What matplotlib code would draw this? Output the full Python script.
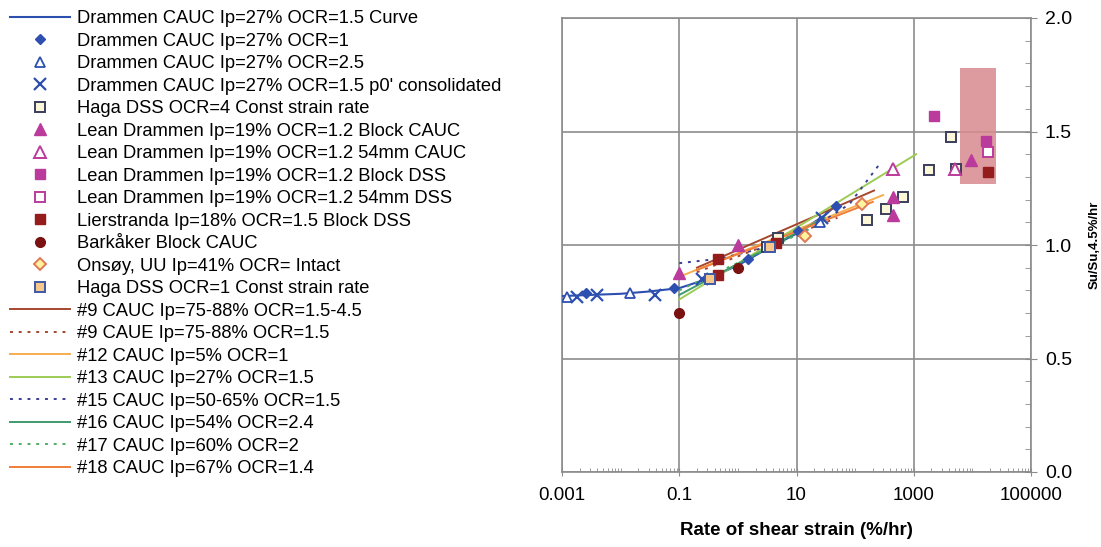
import matplotlib
matplotlib.use("Agg")
import matplotlib.pyplot as plt
from matplotlib.ticker import LogLocator, NullFormatter, FixedLocator, MultipleLocator, FuncFormatter
from matplotlib.patches import Rectangle

plt.rcParams['font.family'] = ['Liberation Sans', 'DejaVu Sans']

# ---- data -------------------------------------------------------------
curve_x = [0.001, 0.003, 0.01, 0.03, 0.1, 0.3, 1, 3, 10, 30, 50]
curve_y = [0.775, 0.78, 0.785, 0.795, 0.81, 0.85, 0.91, 0.98, 1.05, 1.13, 1.18]

ocr1_x = [0.0026, 0.08, 1.5, 10.5, 48]
ocr1_y = [0.79, 0.81, 0.94, 1.06, 1.17]

ocr25_x = [0.0012, 0.0144, 25]
ocr25_y = [0.77, 0.79, 1.10]

p0_x = [0.0018, 0.004, 0.038, 0.24, 27]
p0_y = [0.77, 0.78, 0.78, 0.85, 1.12]

haga4_x = [3.2, 4.8, 162, 340, 660, 1820, 4360, 5300]
haga4_y = [0.99, 1.03, 1.11, 1.16, 1.21, 1.33, 1.475, 1.335]

lean_block_cauc_x = [0.1, 1.0, 450, 450, 9500]
lean_block_cauc_y = [0.875, 1.0, 1.21, 1.13, 1.375]

lean_54_cauc_x = [450, 5000]
lean_54_cauc_y = [1.335, 1.335]

lean_block_dss_x = [2240, 17000]
lean_block_dss_y = [1.57, 1.46]

lean_54_dss_x = [18600]
lean_54_dss_y = [1.41]

lier_x = [0.45, 0.45, 4.5, 18600]
lier_y = [0.94, 0.87, 1.01, 1.32]

bark_x = [0.1, 1.0]
bark_y = [0.70, 0.90]

onsoy_x = [13.8, 133]
onsoy_y = [1.04, 1.18]

haga1_x = [0.33, 3.5]
haga1_y = [0.85, 0.99]

l9_cauc_x, l9_cauc_y = [0.2, 210], [0.90, 1.24]
l9_caue_x, l9_caue_y = [0.2, 50], [0.88, 1.12]
l12_x, l12_y = [0.1, 300], [0.86, 1.22]
l13_x, l13_y = [0.1, 1100], [0.76, 1.40]
l15_x = [0.1, 0.5, 3, 20, 80, 250]
l15_y = [0.92, 0.94, 0.99, 1.08, 1.18, 1.35]
l16_x, l16_y = [0.1, 30], [0.78, 1.12]
l17_x, l17_y = [0.1, 20], [0.80, 1.08]
l18_x, l18_y = [0.2, 200], [0.89, 1.19]

box_x = (6200, 25400)
box_y = (1.27, 1.78)

x_ticks = [0.001, 0.1, 10, 1000, 100000]
x_tick_labels = ['0.001', '0.1', '10', '1000', '100000']

# ---- figure -----------------------------------------------------------
fig = plt.figure(figsize=(11.01, 5.47), dpi=100)
ax = fig.add_axes([562 / 1101, 1 - 472 / 547, (1031 - 562) / 1101, (472 - 18) / 547])

BLUE = '#2d4fb0'
MAG = '#bb3b9c'
DRED = '#951c1c'

ax.add_patch(Rectangle((box_x[0], box_y[0]), box_x[1] - box_x[0], box_y[1] - box_y[0],
                       facecolor='#d98a8e', edgecolor='none', alpha=0.85, zorder=2))

handles = []
h, = ax.plot(curve_x, curve_y, color=BLUE, lw=1.5, zorder=3,
             label='Drammen CAUC Ip=27% OCR=1.5 Curve')
handles.append(h)
ms = 7
mk = dict(ls='none', zorder=5)
handles.append(ax.plot(ocr1_x, ocr1_y, marker='D', ms=5.5, color=BLUE, mec=BLUE,
                       label='Drammen CAUC Ip=27% OCR=1', **mk)[0])
handles.append(ax.plot(ocr25_x, ocr25_y, marker='^', ms=ms, mfc='white', mec=BLUE, mew=1.3,
                       label='Drammen CAUC Ip=27% OCR=2.5', **mk)[0])
handles.append(ax.plot(p0_x, p0_y, marker='x', ms=ms + 1, color=BLUE, mew=1.6,
                       label="Drammen CAUC Ip=27% OCR=1.5 p0' consolidated", **mk)[0])
handles.append(ax.plot(haga4_x, haga4_y, marker='s', ms=ms, mfc='#fbf7d8', mec='#3a3d5c', mew=1.4,
                       label='Haga DSS OCR=4 Const strain rate', **mk)[0])
handles.append(ax.plot(lean_block_cauc_x, lean_block_cauc_y, marker='^', ms=ms + 1, color=MAG,
                       label='Lean Drammen Ip=19% OCR=1.2 Block CAUC', **mk)[0])
handles.append(ax.plot(lean_54_cauc_x, lean_54_cauc_y, marker='^', ms=ms + 1, mfc='white', mec=MAG,
                       mew=1.4, label='Lean Drammen Ip=19% OCR=1.2 54mm CAUC', **mk)[0])
handles.append(ax.plot(lean_block_dss_x, lean_block_dss_y, marker='s', ms=ms, color=MAG,
                       label='Lean Drammen Ip=19% OCR=1.2 Block DSS', **mk)[0])
handles.append(ax.plot(lean_54_dss_x, lean_54_dss_y, marker='s', ms=ms, mfc='white', mec=MAG,
                       mew=1.4, label='Lean Drammen Ip=19% OCR=1.2 54mm DSS', **mk)[0])
handles.append(ax.plot(lier_x, lier_y, marker='s', ms=ms, color=DRED,
                       label='Lierstranda Ip=18% OCR=1.5 Block DSS', **mk)[0])
handles.append(ax.plot(bark_x, bark_y, marker='o', ms=ms, color='#7a1212',
                       label='Barkåker Block CAUC', **mk)[0])
handles.append(ax.plot(onsoy_x, onsoy_y, marker='D', ms=6, mfc='#fff3a0', mec='#e07a55', mew=1.4,
                       label='Onsøy, UU Ip=41% OCR= Intact', **mk)[0])
handles.append(ax.plot(haga1_x, haga1_y, marker='s', ms=ms, mfc='#f6c98a', mec='#3d58a8', mew=1.4,
                       label='Haga DSS OCR=1 Const strain rate', **mk)[0])

ln = dict(lw=1.4, zorder=4)
handles.append(ax.plot(l9_cauc_x, l9_cauc_y, color='#a5472e', label='#9 CAUC Ip=75-88% OCR=1.5-4.5', **ln)[0])
handles.append(ax.plot(l9_caue_x, l9_caue_y, color='#a5472e', ls=(0, (1.5, 3)),
                       label='#9 CAUE Ip=75-88% OCR=1.5', **ln)[0])
handles.append(ax.plot(l12_x, l12_y, color='#f6ad4f', label='#12 CAUC Ip=5% OCR=1', **ln)[0])
handles.append(ax.plot(l13_x, l13_y, color='#9ccc55', label='#13 CAUC Ip=27% OCR=1.5', **ln)[0])
handles.append(ax.plot(l15_x, l15_y, color='#3b3f94', ls=(0, (1.5, 3)),
                       label='#15 CAUC Ip=50-65% OCR=1.5', **ln)[0])
handles.append(ax.plot(l16_x, l16_y, color='#3f9a6c', label='#16 CAUC Ip=54% OCR=2.4', **ln)[0])
handles.append(ax.plot(l17_x, l17_y, color='#4fae62', ls=(0, (1.5, 3)),
                       label='#17 CAUC Ip=60% OCR=2', **ln)[0])
handles.append(ax.plot(l18_x, l18_y, color='#f07d38', label='#18 CAUC Ip=67% OCR=1.4', **ln)[0])

# ---- axes -------------------------------------------------------------
GRID = '#8c8c8c'
ax.set_xscale('log')
ax.set_xlim(0.001, 100000)
ax.set_ylim(0.0, 2.0)
ax.xaxis.set_major_locator(FixedLocator(x_ticks))
ax.set_xticklabels(x_tick_labels)
ax.xaxis.set_minor_locator(LogLocator(base=10, subs=range(1, 10), numticks=50))
ax.xaxis.set_minor_formatter(NullFormatter())
ax.yaxis.set_major_locator(MultipleLocator(0.5))
ax.yaxis.set_minor_locator(MultipleLocator(0.1))
ax.yaxis.set_major_formatter(FuncFormatter(lambda v, p: f'{v:.1f}'))
ax.yaxis.tick_right()
ax.yaxis.set_label_position('right')
ax.tick_params(axis='x', which='major', direction='inout', length=6, color=GRID,
               labelsize=13.5, pad=8)
ax.tick_params(axis='x', which='minor', direction='in', length=3, color=GRID)
ax.tick_params(axis='y', which='major', direction='inout', length=8, color=GRID,
               labelsize=14, pad=6)
ax.tick_params(axis='y', which='minor', direction='in', length=4, color=GRID)
ax.grid(True, which='major', color=GRID, lw=1.2)
for s in ax.spines.values():
    s.set_color(GRID)
    s.set_linewidth(1.2)

ax.set_xlabel('Rate of shear strain (%/hr)', fontsize=13.5, fontweight='bold', labelpad=13)
ax.set_ylabel('Su/Su,4.5%/hr', fontsize=9.5, fontweight='bold', labelpad=12)

fig.legend(handles=handles, loc='upper left', bbox_to_anchor=(0.009, 0.981),
           frameon=False, fontsize=13.2, handlelength=3.3, handletextpad=0.35,
           labelspacing=0.30, borderaxespad=0.0, borderpad=0.0)

fig.savefig('out.png', dpi=100)
